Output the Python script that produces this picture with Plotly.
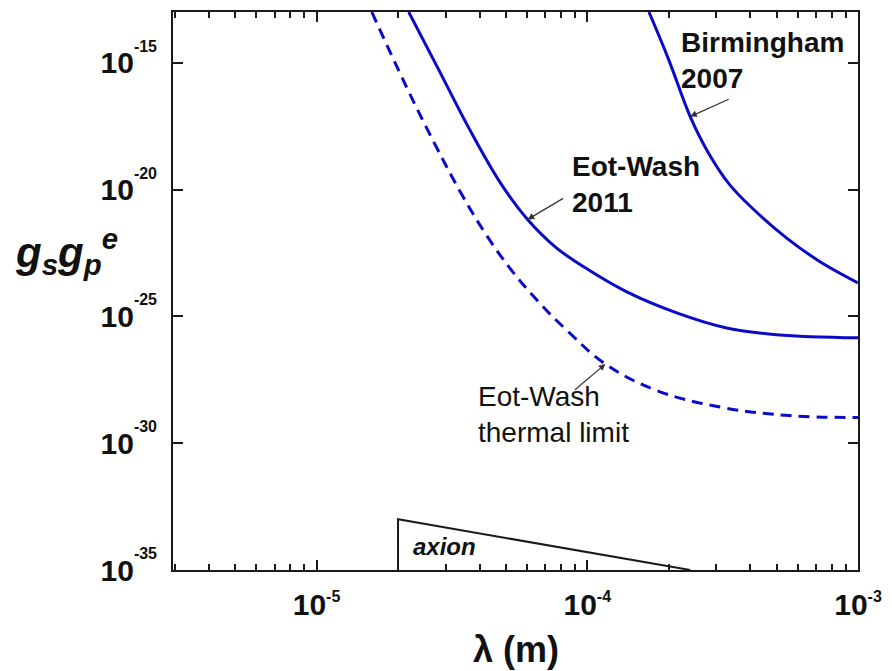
import numpy as np
import plotly.graph_objects as go

# Eot-Wash 2011 constraint on g_s g_p^e versus range lambda (m)
ew2011_lambda = [2.19e-5, 2.81e-5, 3.68e-5, 4.79e-5, 6.02e-5, 7.63e-5, 1.0e-4,
                 1.40e-4, 2.14e-4, 3.27e-4, 5.0e-4, 1.0e-3]
ew2011_g = [1.0e-13, 6.0e-16, 2.3e-18, 1.76e-20, 6.6e-22, 5.4e-23, 7.3e-24,
            9.2e-25, 1.37e-25, 3.5e-26, 1.9e-26, 1.43e-26]

# Birmingham 2007 constraint
bham_lambda = [1.69e-4, 2.0e-4, 2.40e-4, 2.81e-4, 3.35e-4, 4.11e-4,
               5.44e-4, 7.19e-4, 1.0e-3]
bham_g = [1.0e-13, 1.3e-15, 7.55e-18, 2.65e-19, 1.6e-20, 1.67e-21,
          1.25e-22, 1.5e-23, 2.1e-24]

# Eot-Wash thermal-noise limit
thermal_lambda = [1.60e-5, 2.12e-5, 2.74e-5, 3.47e-5, 4.29e-5, 5.21e-5, 6.55e-5,
                  8.44e-5, 1.167e-4, 1.81e-4, 3.19e-4, 5.57e-4, 1.0e-3]
thermal_g = [1.0e-13, 1.5e-16, 6.0e-19, 5.4e-21, 1.33e-22, 7.3e-24, 4.1e-25,
             2.7e-26, 1.32e-27, 1.18e-28, 2.5e-29, 1.23e-29, 1.02e-29]

# axion region outline
axion_lambda = [2.0e-5, 2.0e-5, 2.4e-4]
axion_g = [1.0e-35, 1.0e-33, 1.0e-35]

# axis ticks
x_tick_exp = [-5, -4, -3]
y_tick_exp = [-35, -30, -25, -20, -15]

# points on each curve where the label arrows land
BHAM_ARROW, EW_ARROW, THERMAL_ARROW = 2, 4, 8

BLUE = "#0a0ac8"
INK = "#1a1a1a"
FONT = "Liberation Sans, Arial, sans-serif"

curve_line = dict(color=BLUE, width=3, shape="spline", smoothing=1.1)

fig = go.Figure()
fig.add_trace(go.Scatter(x=ew2011_lambda, y=ew2011_g, mode="lines", line=curve_line))
fig.add_trace(go.Scatter(x=bham_lambda, y=bham_g, mode="lines", line=curve_line))
fig.add_trace(go.Scatter(x=thermal_lambda, y=thermal_g, mode="lines",
                         line=dict(curve_line, dash="11px,7px")))
fig.add_trace(go.Scatter(x=axion_lambda, y=axion_g, mode="lines",
                         line=dict(color=INK, width=2)))

axis_common = dict(
    type="log", showline=True, linewidth=2, linecolor=INK, mirror="ticks",
    ticks="inside", ticklen=10, tickwidth=2, tickcolor=INK,
    showgrid=False, zeroline=False,
    tickfont=dict(family=FONT, size=30, color="#111", weight="bold"),
)

fig.update_xaxes(
    **axis_common,
    range=[np.log10(2.95e-6), -3],
    tickmode="array",
    tickvals=[10.0 ** e for e in x_tick_exp],
    ticktext=[f"10<sup><span style='font-size:16px'>{e}</span></sup>" for e in x_tick_exp],
    ticklabelstandoff=7,
    minor=dict(ticks="inside", ticklen=6, tickwidth=1.5, tickcolor=INK, dtick="D1",
               showgrid=False),
)
fig.update_yaxes(
    **axis_common,
    range=[-35, -13],
    tickmode="array",
    tickvals=[10.0 ** e for e in y_tick_exp],
    ticktext=[f"10<sup><sup><span style='font-size:16px'>{e}</span></sup></sup>"
              for e in y_tick_exp],
    ticklabelstandoff=8,
)

label_font = dict(family=FONT, size=28, color="#111")
annotations = [
    dict(x=0.7388, y=0.9134, text="<b>Birmingham<br>2007</b>", xanchor="left",
         yanchor="middle", align="left", font=label_font),
    dict(x=0.579, y=0.690, text="<b>Eot-Wash<br>2011</b>", xanchor="left",
         yanchor="middle", align="left", font=label_font),
    dict(x=0.4427, y=0.2795, text="Eot-Wash<br>thermal limit", xanchor="left",
         yanchor="middle", align="left", font=label_font),
    dict(x=0.3476, y=0.0429, text="<b><i>axion</i></b>", xanchor="left",
         yanchor="middle", font=dict(family=FONT, size=24, color="#111")),
    dict(x=-0.234, y=0.571, text="<b><i>g<sub>s</sub>g<sub>p</sub><sup>e</sup></i></b>",
         xanchor="left", yanchor="middle", font=dict(family=FONT, size=42, color="#111")),
    dict(x=0.5, y=-0.1429, text="<b>λ (m)</b>", xanchor="center", yanchor="middle",
         font=dict(family=FONT, size=36, color="#111")),
]
for a in annotations:
    a.update(xref="paper", yref="paper", showarrow=False)

arrow_style = dict(xref="x", yref="y", showarrow=True, arrowhead=2, arrowsize=1.1,
                   arrowwidth=1.2, arrowcolor="#333", text="", standoff=0)
annotations += [
    dict(x=np.log10(bham_lambda[BHAM_ARROW]), y=np.log10(bham_g[BHAM_ARROW]),
         ax=40, ay=-18, **arrow_style),
    dict(x=np.log10(ew2011_lambda[EW_ARROW]), y=np.log10(ew2011_g[EW_ARROW]),
         ax=37, ay=-22, **arrow_style),
    dict(x=np.log10(thermal_lambda[THERMAL_ARROW]), y=np.log10(thermal_g[THERMAL_ARROW]),
         ax=-32, ay=27, **arrow_style),
]

fig.update_layout(
    width=892, height=671,
    margin=dict(l=173, r=30, t=10, b=101),
    paper_bgcolor="white", plot_bgcolor="white",
    showlegend=False,
    annotations=annotations,
    font=dict(family=FONT),
)

fig.write_html("out.html")
